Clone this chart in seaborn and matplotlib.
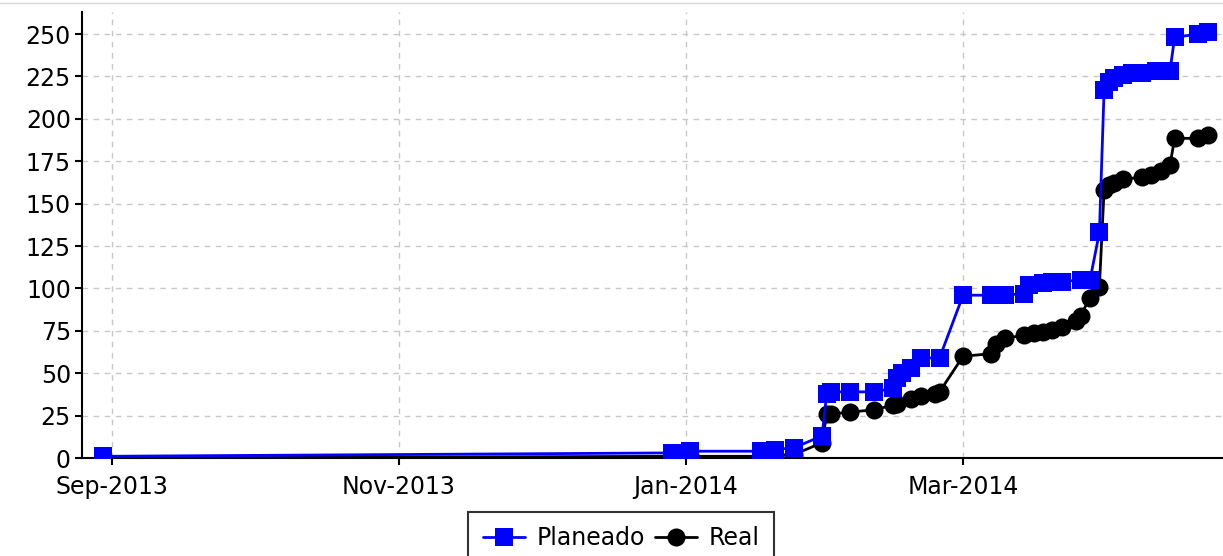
import matplotlib
matplotlib.use("Agg")
import matplotlib.pyplot as plt
import matplotlib.dates as mdates
from matplotlib.lines import Line2D
import pandas as pd
import seaborn as sns

# ── Data ───────────────────────────────────────────────────────
PLAN_DATES = [
    "2013-08-30", "2013-12-29", "2014-01-02", "2014-01-17", "2014-01-20",
    "2014-01-24", "2014-01-30", "2014-01-31", "2014-02-01", "2014-02-05",
    "2014-02-10", "2014-02-14", "2014-02-15", "2014-02-16", "2014-02-18",
    "2014-02-20", "2014-02-24", "2014-03-01", "2014-03-07", "2014-03-10",
    "2014-03-14", "2014-03-15", "2014-03-18", "2014-03-20", "2014-03-22",
    "2014-03-26", "2014-03-28", "2014-03-30", "2014-03-31", "2014-04-01",
    "2014-04-02", "2014-04-04", "2014-04-06", "2014-04-08", "2014-04-11",
    "2014-04-14", "2014-04-15", "2014-04-20", "2014-04-22",
]
PLAN_VALUES = [
    1, 3, 4, 4, 5,
    6, 13, 38, 39, 39,
    39, 41, 47, 50, 53,
    59, 59, 96, 96, 96,
    97, 102, 103, 104, 104,
    105, 105, 133, 217, 222,
    224, 226, 227, 227, 228,
    228, 248, 250, 251,
]

REAL_DATES = [
    "2013-08-30", "2014-01-02", "2014-01-17", "2014-01-20", "2014-01-24",
    "2014-01-30", "2014-01-31", "2014-02-01", "2014-02-05", "2014-02-10",
    "2014-02-14", "2014-02-15", "2014-02-18", "2014-02-20", "2014-02-23",
    "2014-02-24", "2014-03-01", "2014-03-07", "2014-03-08", "2014-03-10",
    "2014-03-14", "2014-03-16", "2014-03-18", "2014-03-20", "2014-03-22",
    "2014-03-25", "2014-03-26", "2014-03-28", "2014-03-30", "2014-03-31",
    "2014-04-01", "2014-04-02", "2014-04-04", "2014-04-08", "2014-04-10",
    "2014-04-12", "2014-04-14", "2014-04-15", "2014-04-20", "2014-04-22",
]
REAL_VALUES = [
    0, 1, 1, 1.5, 2,
    9, 26, 26, 27, 28.5,
    31, 32, 35, 36.5, 37.5,
    39, 60, 61.5, 67.5, 70.5,
    72.5, 74, 74.5, 75.5, 77,
    80.5, 84, 94.5, 101, 158,
    161, 162, 164.5, 165.5, 167,
    169, 172.5, 188.5, 188.5, 190.5,
]

Y_TICKS = list(range(0, 251, 25))
X_LIMITS = ("2013-08-25 14:00", "2014-04-25 07:00")

plan = pd.DataFrame({"fecha": pd.to_datetime(PLAN_DATES), "valor": PLAN_VALUES})
real = pd.DataFrame({"fecha": pd.to_datetime(REAL_DATES), "valor": REAL_VALUES})

# ── Plot ───────────────────────────────────────────────────────
sns.set_style("white")
plt.rcParams["font.family"] = ["DejaVu Sans"]

fig = plt.figure(figsize=(12.23, 5.56), dpi=100)
ax = fig.add_axes([82 / 1223, 1 - 458 / 556, 1 - 82 / 1223, (458 - 12) / 556])

# planned series sits on top of the real one, as in the original
sns.lineplot(data=plan, x="fecha", y="valor", ax=ax, color="#0000ff",
             marker="s", markersize=13, markeredgewidth=0, linewidth=2,
             label="Planeado", sort=False, zorder=4)
sns.lineplot(data=real, x="fecha", y="valor", ax=ax, color="black",
             marker="o", markersize=13, markeredgewidth=0, linewidth=2,
             label="Real", sort=False, zorder=3)

ax.set_xlim(pd.Timestamp(X_LIMITS[0]), pd.Timestamp(X_LIMITS[1]))
ax.set_ylim(0, 263)
ax.set_yticks(Y_TICKS)
ax.xaxis.set_major_locator(mdates.MonthLocator(bymonth=[1, 3, 5, 7, 9, 11]))
ax.xaxis.set_major_formatter(mdates.DateFormatter("%b-%Y"))
ax.set_xlabel("")
ax.set_ylabel("")

ax.grid(True, color="#c8c8c8", linestyle=(0, (4, 4)), linewidth=1)
ax.set_axisbelow(True)
for side in ("top", "right"):
    ax.spines[side].set_visible(False)
for side in ("left", "bottom"):
    ax.spines[side].set_color("black")
    ax.spines[side].set_linewidth(1.5)
ax.tick_params(axis="both", direction="out", length=5, width=1.5,
               colors="black", labelsize=17, left=True, bottom=True, pad=3)
ax.tick_params(axis="x", pad=7)

leg = ax.legend(loc="upper center", bbox_to_anchor=(0.508, 1 - 512 / 556),
                bbox_transform=fig.transFigure, ncol=2, fontsize=17,
                frameon=True, fancybox=False, edgecolor="black",
                labelcolor="black",
                handlelength=1.8, columnspacing=0.4, handletextpad=0.5,
                borderpad=0.6, borderaxespad=0)
leg.get_frame().set_linewidth(1.5)

# thin frame line along the top edge
fig.add_artist(Line2D([0, 1], [1 - 3 / 556] * 2, color="#d8d8d8", linewidth=1))

fig.savefig("out.png", dpi=100)
plt.close(fig)
